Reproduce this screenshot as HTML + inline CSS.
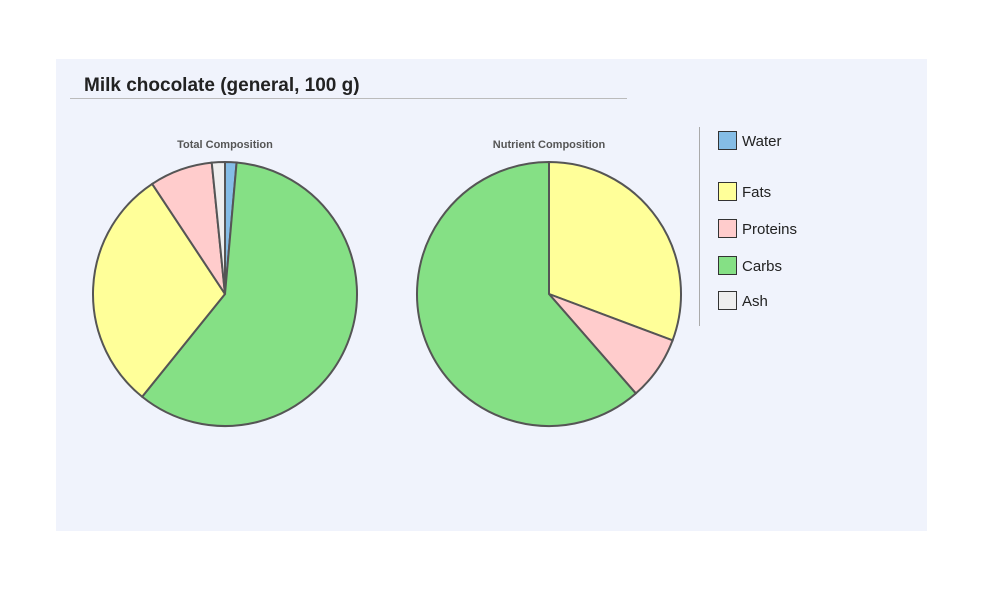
<!DOCTYPE html>
<html><head><meta charset="utf-8"><style>
body{margin:0;width:1000px;height:600px;background:#fff;font-family:"Liberation Sans",sans-serif;position:relative;overflow:hidden}
#panel{position:absolute;left:56px;top:59px;width:871px;height:472px;background:#f0f3fc}
</style></head><body>
<div id="panel"></div>
<svg width="1000" height="600" style="position:absolute;left:0;top:0">
<text x="84" y="91" font-size="19" font-weight="bold" fill="#222" font-family="Liberation Sans, sans-serif">Milk chocolate (general, 100 g)</text>
<line x1="70" y1="98.5" x2="627" y2="98.5" stroke="#bbb"/>
<text x="225" y="148" font-size="11" font-weight="bold" fill="#555" text-anchor="middle">Total Composition</text>
<text x="549" y="148" font-size="11" font-weight="bold" fill="#555" text-anchor="middle">Nutrient Composition</text>
<g id="pie1"></g><g id="pie2"></g>
<line x1="699.5" y1="127" x2="699.5" y2="326" stroke="#aaa"/>
<g id="legend"></g>
</svg>
<script>
const totalLabels=["Water","Carbs","Fats","Proteins","Ash"];
const totalValues=[1.4,59.4,29.9,7.7,1.6];
const nutrientLabels=["Fats","Proteins","Carbs"];
const nutrientValues=[29.7,7.6,59.4];
const legendLabels=["Water","Fats","Proteins","Carbs","Ash"];
const colors={Water:"#85bde6",Fats:"#ffff99",Proteins:"#ffcccc",Carbs:"#85e085",Ash:"#eeeeee"};
const NS="http://www.w3.org/2000/svg";
function pie(gid,labels,values,cx,cy,r){
  const g=document.getElementById(gid);
  const tot=values.reduce((a,b)=>a+b,0);
  let a=0;
  labels.forEach((l,i)=>{
    const a2=a+values[i]/tot*2*Math.PI;
    const x1=cx+r*Math.sin(a),y1=cy-r*Math.cos(a),x2=cx+r*Math.sin(a2),y2=cy-r*Math.cos(a2);
    const p=document.createElementNS(NS,"path");
    p.setAttribute("d",`M${cx},${cy}L${x1},${y1}A${r},${r} 0 ${a2-a>Math.PI?1:0} 1 ${x2},${y2}Z`);
    p.setAttribute("fill",colors[l]);p.setAttribute("stroke","#555");p.setAttribute("stroke-width","2");
    
    
    g.appendChild(p);a=a2;
  });
}
pie("pie1",totalLabels,totalValues,225,294,132);
pie("pie2",nutrientLabels,nutrientValues,549,294,132);
const lg=document.getElementById("legend");
const ly=[131,182,219,256,291];
legendLabels.forEach((l,i)=>{
  const r=document.createElementNS(NS,"rect");
  r.setAttribute("x",718.5);r.setAttribute("y",ly[i]+0.5);r.setAttribute("width",18);r.setAttribute("height",18);
  r.setAttribute("fill",colors[l]);r.setAttribute("stroke","#333");
  
  
  lg.appendChild(r);
  const t=document.createElementNS(NS,"text");
  t.setAttribute("x",742);t.setAttribute("y",ly[i]+15);t.setAttribute("font-size","15");t.setAttribute("fill","#222");
  t.textContent=l;
  
  
  lg.appendChild(t);
});
</script>
</body></html>
